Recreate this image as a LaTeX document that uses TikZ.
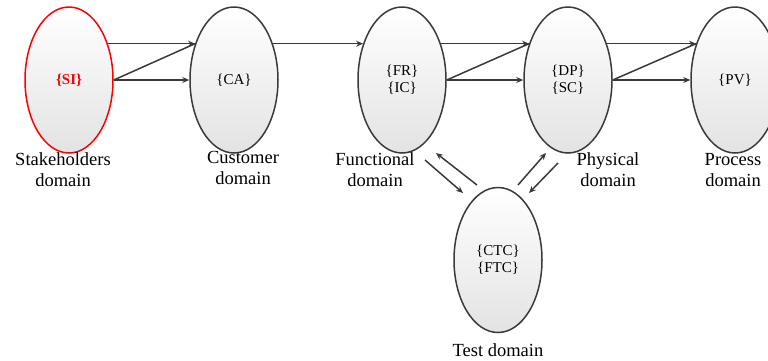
\documentclass[tikz,border=0pt]{standalone}
\usepackage{fontspec}
\setmainfont{Liberation Serif}
\usetikzlibrary{shapes.geometric,arrows.meta,calc}
\definecolor{edge}{HTML}{3A3A3A}
\begin{document}
\begin{tikzpicture}[x=1pt,y=-1pt,
  dom/.style={ellipse,draw=edge,line width=1.5pt,minimum width=88pt,minimum height=146pt,
    top color=white,bottom color=gray!22,inner sep=0pt,font=\fontsize{15}{17}\selectfont,align=center},
  lbl/.style={font=\fontsize{18.5}{21}\selectfont,align=center,inner sep=0pt},
  arr/.style={draw=edge,line width=1.5pt,-{Stealth[length=7pt,width=6pt]}},
  ln/.style={draw=edge,line width=1.5pt}]
\useasboundingbox (0,0) rectangle (768,360);
\begin{scope}
\clip (0,0) rectangle (768,360);
\node[dom,draw=red,text=red,font=\fontsize{15}{17}\selectfont\bfseries] (si) at (69,80) {\{SI\}};
\node[dom] (ca) at (234,80) {\{CA\}};
\node[dom] (fr) at (402,80) {\{FR\}\\\{IC\}};
\node[dom] (dp) at (568,80) {\{DP\}\\\{SC\}};
\node[dom] (pv) at (735,80) {\{PV\}};
\node[dom,minimum height=145pt] (tc) at (498,260) {\{CTC\}\\\{FTC\}};
\end{scope}

\node[lbl] (lsi) at (63,170) {Stakeholders\\domain};
\node[lbl] (lca) at (243,168) {Customer\\domain};
\node[lbl] (lfr) at (375,170) {Functional\\domain};
\node[lbl] (ldp) at (608,170) {Physical\\domain};
\node[lbl] (lpv) at (733,170) {Process\\domain};
\node[lbl] (ltc) at (498,350) {Test domain};

% horizontal chain
\draw[arr] (si.43) -- (ca.137);
\draw[ln] (si.east) -- (ca.137);
\draw[arr] (si.east) -- (ca.west);
\draw[arr] (ca.43) -- (fr.137);
\draw[arr] (fr.43) -- (dp.137);
\draw[ln] (fr.east) -- (dp.137);
\draw[arr] (fr.east) -- (dp.west);
\draw[arr] (dp.43) -- (pv.137);
\draw[ln] (dp.east) -- (pv.137);
\draw[arr] (dp.east) -- (pv.west);

% test domain links
\coordinate (a1) at (425,160);
\coordinate (a2) at (463,193);
\coordinate (b1) at (477,185);
\coordinate (b2) at (436,153);
\coordinate (c1) at (518,185);
\coordinate (c2) at (546,153);
\coordinate (d1) at (558,163);
\coordinate (d2) at (529,193);
\draw[arr] (a1) -- (a2);
\draw[arr] (b1) -- (b2);
\draw[arr] (c1) -- (c2);
\draw[arr] (d1) -- (d2);
\end{tikzpicture}
\end{document}
